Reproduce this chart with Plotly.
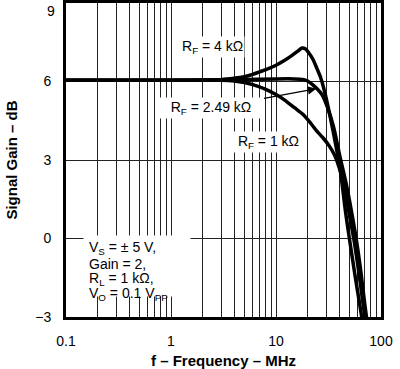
import math
import plotly.graph_objects as go

# ---- data ----
freq_rf4k = [0.1, 1, 3, 4, 5, 6, 7, 8, 10, 12, 14, 16, 17.7, 19, 20.5, 22.6, 24.5, 26.4, 29.3, 33, 37, 41, 46, 50, 56, 62, 68]
gain_rf4k = [6.05, 6.05, 6.07, 6.12, 6.18, 6.27, 6.37, 6.45, 6.62, 6.8, 6.98, 7.15, 7.28, 7.25, 7.1, 6.83, 6.5, 6.19, 5.55, 4.6, 3.6, 2.6, 1.0, 0.0, -1.3, -2.4, -3.4]

freq_rf249k = [0.1, 1, 5, 10, 15, 18, 20, 22, 24.2, 27.4, 31, 35.3, 40.8, 46, 52, 58, 64, 70, 75]
gain_rf249k = [6.05, 6.05, 6.08, 6.1, 6.1, 6.08, 6.02, 5.9, 5.75, 5.5, 5.0, 4.27, 3.1, 2.2, 1.1, 0.0, -1.2, -2.5, -3.4]

freq_rf1k = [0.1, 1, 3, 4, 5, 6, 8, 10, 12, 15, 18, 21, 24.5, 28, 32, 36, 40, 45, 50, 55, 61, 67, 72]
gain_rf1k = [6.05, 6.05, 6.05, 6.02, 5.96, 5.88, 5.7, 5.5, 5.3, 5.0, 4.75, 4.45, 4.1, 3.85, 3.55, 3.2, 2.7, 1.9, 0.9, 0.0, -1.2, -2.4, -3.3]

x_tick_labels = ["0.1", "1", "10", "100"]
y_tick_values = [-3, 0, 3, 6, 9]
y_tick_labels = ["−3", "0", "3", "6", "9"]

FONT = "Liberation Sans, Arial, Helvetica, sans-serif"

# log-axis grid at every 1..9 multiple of each decade
x_grid_vals = []
x_grid_text = []
for d in (-1, 0, 1):
    for k in range(1, 10):
        x_grid_vals.append(k * 10 ** d)
        x_grid_text.append(x_tick_labels[d + 1] if k == 1 else " ")
x_grid_vals.append(100)
x_grid_text.append(x_tick_labels[3])

# top label ("9") is drawn as an annotation so it can sit just inside the page
y_axis_text = [t if v != 9 else " " for v, t in zip(y_tick_values, y_tick_labels)]

fig = go.Figure()
for f, g in ((freq_rf1k, gain_rf1k), (freq_rf249k, gain_rf249k), (freq_rf4k, gain_rf4k)):
    fig.add_trace(go.Scatter(
        x=f, y=g, mode="lines",
        line=dict(color="black", width=3.5, shape="spline", smoothing=0.7),
        hoverinfo="skip", showlegend=False, cliponaxis=True,
    ))

lx = math.log10
ann_font = dict(family=FONT, size=14, color="black")

annotations = [
    dict(x=0, y=y_tick_values[-1], xref="paper", yref="y", xanchor="right", yanchor="top",
         xshift=-9, yshift=2, text=y_tick_labels[-1], showarrow=False, font=ann_font),
    dict(x=lx(2.49), y=7.33, xref="x", yref="y",
         text="R<sub>F</sub> = 4 kΩ", showarrow=False,
         bgcolor="white", borderpad=1, font=ann_font),
    dict(x=lx(24.2), y=5.72, xref="x", yref="y",
         ax=lx(2.38), ay=4.99, axref="x", ayref="y",
         text="   R<sub>F</sub> = 2.49 kΩ   ", showarrow=True,
         arrowhead=2, arrowsize=1.3, arrowwidth=1.3, arrowcolor="black",
         bgcolor="white", borderpad=1, font=ann_font),
    dict(x=lx(8.47), y=3.69, xref="x", yref="y",
         text=" R<sub>F</sub> = 1 kΩ ", showarrow=False,
         bgcolor="white", borderpad=1, font=ann_font),
    # white backing for condition block
    dict(x=lx(0.1445), y=0.12, xref="x", yref="y", xanchor="left", yanchor="top",
         text=" ", showarrow=False, width=106, height=60,
         bgcolor="white", borderpad=0, font=ann_font),
]
cond_lines = ["V<sub>S</sub> = ± 5 V,", "Gain = 2,", "R<sub>L</sub> = 1 kΩ,", "V<sub>O</sub> = 0.1 V<sub>PP</sub>"]
cond_y = [-0.36, -0.96, -1.55, -2.13]
for t, yv in zip(cond_lines, cond_y):
    annotations.append(dict(x=lx(0.16), y=yv, xref="x", yref="y", xanchor="left",
                            text=t, showarrow=False, font=ann_font))

fig.update_layout(
    width=400, height=369,
    margin=dict(l=66, r=19, t=3, b=52, autoexpand=False),
    paper_bgcolor="white", plot_bgcolor="white",
    font=dict(family=FONT, size=14, color="black"),
    annotations=annotations,
)
fig.update_xaxes(
    type="log", range=[-1, 2],
    tickmode="array", tickvals=x_grid_vals, ticktext=x_grid_text, tickangle=0,
    ticks="", ticklabelstandoff=9, ticklabeloverflow="allow",
    showgrid=True, gridcolor="#222", gridwidth=1,
    showline=True, linewidth=3, linecolor="black", mirror=True,
    zeroline=False,
    title=dict(text="<b>f – Frequency – MHz</b>", font=dict(size=15), standoff=8),
    tickfont=dict(size=14),
)
fig.update_yaxes(
    range=[-3, 9],
    tickmode="array", tickvals=y_tick_values, ticktext=y_axis_text, tickangle=0,
    ticks="", ticklabelstandoff=9, ticklabeloverflow="allow",
    showgrid=True, gridcolor="#222", gridwidth=1,
    showline=True, linewidth=3, linecolor="black", mirror=True,
    zeroline=False,
    title=dict(text="<b>Signal Gain – dB</b>", font=dict(size=15), standoff=14),
    tickfont=dict(size=14),
)

fig.write_html("out.html", config={"displayModeBar": False},
               post_script="document.body.style.margin='0';")
